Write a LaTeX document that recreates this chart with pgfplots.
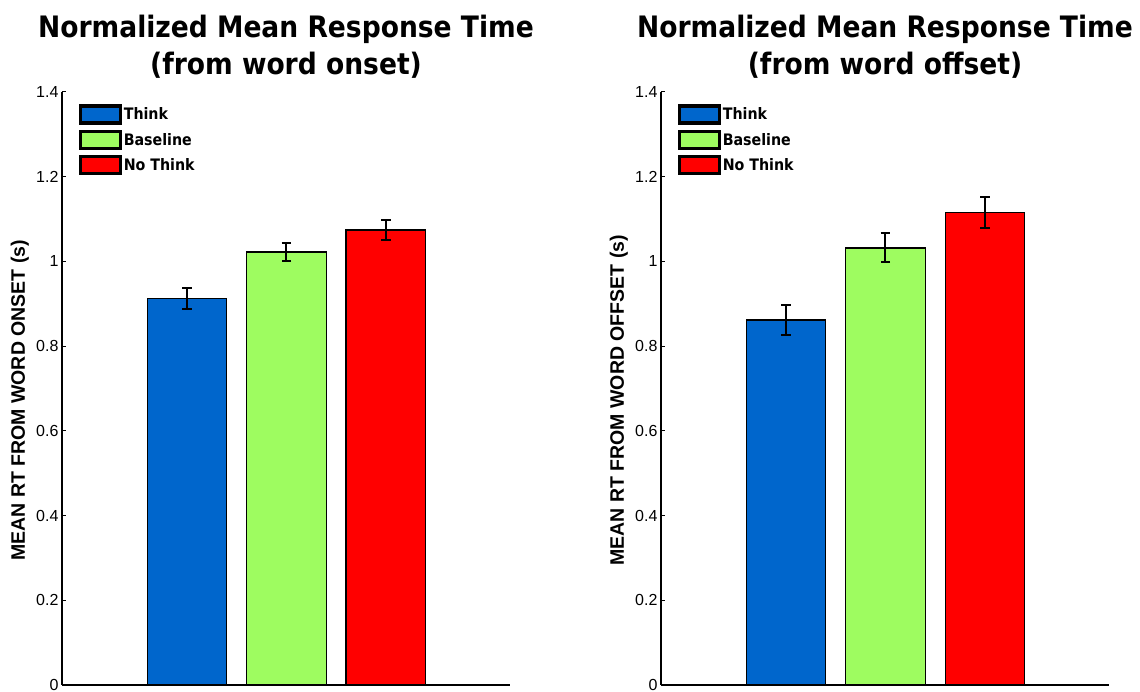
\documentclass[border=0pt]{standalone}
\usepackage{pgfplots}
\pgfplotsset{compat=1.18}
\usepackage{fontspec}
\setmainfont{Liberation Sans}
\newfontfamily\titlefont{DejaVu Sans Condensed Bold}
\definecolor{thinkblue}{RGB}{0,102,204}
\definecolor{basegreen}{RGB}{158,252,96}
\definecolor{nored}{RGB}{255,0,0}
\pgfplotsset{
  mybase/.style={
    scale only axis, width=448pt, height=593pt,
    xmin=-0.256, xmax=4.247, ymin=0, ymax=1.4,
    axis x line*=bottom, axis y line*=left,
    axis line style={line width=1.8pt, black, -},
    xtick=\empty, ytick={0,0.2,0.4,0.6,0.8,1,1.2,1.4},
    tick align=inside, major tick length=4pt,
    tick style={line width=1pt, black},
    /pgf/number format/assume math mode=true,
    yticklabel style={font=\fontsize{16}{16}\selectfont},
    ylabel style={font=\bfseries\fontsize{19.5}{19.5}\selectfont, at={(axis description cs:-0.094,0.48)}, anchor=center},
    title style={font=\titlefont\fontsize{29.5}{37}\selectfont, align=center, at={(axis description cs:0.5,1)}, anchor=south, yshift=7pt, inner sep=0pt},
    legend style={at={(axis description cs:0,1)}, anchor=north west, xshift=17pt, yshift=-12.5pt, draw=none, fill=none, inner sep=0pt, outer sep=0pt, row sep=5pt, font=\titlefont\fontsize{15.8}{16}\selectfont, nodes={inner sep=1.5pt}},
    legend cell align=left,
  },
  mybar/.style={
    ybar, bar width=0.8, bar shift=0pt, draw=black, line width=1.3pt,
    legend image code/.code={\draw[##1, line width=3.3pt, draw=black] (0pt,-8.5pt) rectangle (40pt,8.5pt);},
    error bars/y dir=both, error bars/y explicit,
    error bars/error bar style={line width=2pt, black},
    error bars/error mark options={rotate=90, mark size=4.75pt, line width=2pt, black},
  },
}
\begin{document}
\begin{tikzpicture}
\useasboundingbox (0,0) rectangle (1140pt,692pt);
\begin{axis}[mybase, at={(62pt,7pt)}, anchor=south west,
  title={Normalized Mean Response Time\\(from word onset)},
  ylabel={MEAN RT FROM WORD ONSET (s)},
  legend entries={Think,Baseline,No Think}]
\addplot[mybar, fill=thinkblue] coordinates {(1,0.913) +- (0,0.025)};
\addplot[mybar, fill=basegreen] coordinates {(2,1.022) +- (0,0.022)};
\addplot[mybar, fill=nored] coordinates {(3,1.074) +- (0,0.024)};
\end{axis}
\begin{axis}[mybase, at={(661pt,7pt)}, anchor=south west,
  title={Normalized Mean Response Time\\(from word offset)},
  ylabel={MEAN RT FROM WORD OFFSET (s)},
  legend entries={Think,Baseline,No Think}]
\addplot[mybar, fill=thinkblue] coordinates {(1,0.862) +- (0,0.036)};
\addplot[mybar, fill=basegreen] coordinates {(2,1.032) +- (0,0.034)};
\addplot[mybar, fill=nored] coordinates {(3,1.116) +- (0,0.036)};
\end{axis}
\end{tikzpicture}
\end{document}
